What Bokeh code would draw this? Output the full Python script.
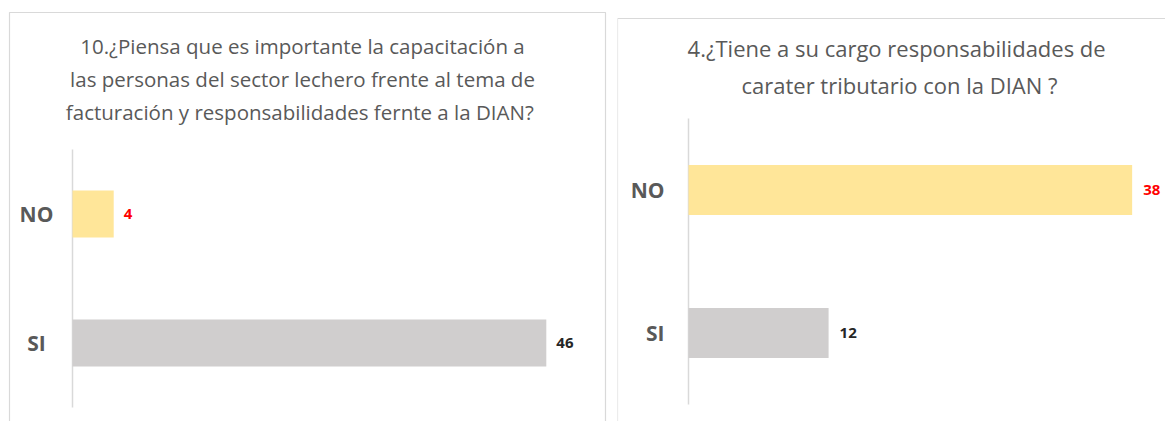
from bokeh.plotting import figure
from bokeh.models import Range1d, ColumnDataSource
from bokeh.layouts import row
from bokeh.embed import file_html
from bokeh.resources import INLINE
from bokeh.core.properties import value

# ---- data ----
categories = ["SI", "NO"]
left_values = [46, 4]
right_values = [12, 38]
left_title = [
    "10.¿Piensa que es importante la capacitación a",
    "las personas del sector lechero frente al tema de",
    "facturación y responsabilidades  fernte a la DIAN?",
]
right_title = [
    "4.¿Tiene a su cargo responsabilidades  de",
    "carater tributario con la DIAN ?",
]
bar_colors = ["#D0CECE", "#FFE699"]
label_colors = ["#262626", "#FF0000"]

FONT = "Open Sans"
TITLE_COLOR = "#595959"
AXIS_COLOR = "#D9D9D9"
HEIGHT = 421


def make_panel(values, title_lines, width, axis_px, px_per_unit, first_cat_py,
               px_per_cat, bar_px, title_cx, title_ys, title_size,
               border_px, cat_align, cat_off, label_off):
    # pixel <-> data helpers (layout only)
    def dx(px):
        return (px - axis_px) / px_per_unit

    def dy(py):
        return (first_cat_py - py) / px_per_cat

    p = figure(width=width, height=HEIGHT, output_backend="svg", toolbar_location=None,
               x_range=Range1d(dx(0), dx(width)), y_range=Range1d(dy(HEIGHT), dy(0)),
               min_border=0)
    p.title.visible = False
    p.axis.visible = False
    p.grid.visible = False
    p.outline_line_color = None

    idx = list(range(len(categories)))
    src = ColumnDataSource(dict(cat=categories, pos=idx, val=values,
                                color=bar_colors, lcolor=label_colors,
                                txt=[str(v) for v in values]))

    # panel border (left, top, right edges)
    bl, bt, br = border_px
    xs = [dx(bl), dx(bl)] + ([dx(br), dx(br)] if br is not None else [dx(width + 5)])
    ys = [dy(HEIGHT + 5), dy(bt)] + ([dy(bt), dy(HEIGHT + 5)] if br is not None else [dy(bt)])
    p.line(xs, ys, line_color=AXIS_COLOR, line_width=1.2)

    # category axis line
    p.segment(x0=[0], y0=[-0.5], x1=[0], y1=[len(categories) - 0.5],
              line_color=AXIS_COLOR, line_width=1.5)

    # bars
    p.hbar(y="pos", left=0, right="val", height=bar_px / px_per_cat, color="color",
           line_color=None, source=src)

    # category labels
    p.text(x=0, y="pos", text="cat", x_offset=cat_off, text_align=cat_align,
           text_baseline="middle", text_color=TITLE_COLOR, text_font=value(FONT),
           text_font_size="21px", text_font_style="bold", source=src)

    # value labels
    p.text(x="val", y="pos", text="txt", x_offset=label_off, text_align="left",
           text_baseline="middle", text_color="lcolor", text_font=value(FONT),
           text_font_size="15px", text_font_style="bold", source=src)

    # title
    tsrc = ColumnDataSource(dict(x=[dx(title_cx)] * len(title_lines),
                                 y=[dy(v) for v in title_ys], t=title_lines))
    p.text(x="x", y="y", text="t", text_align="center", text_baseline="middle",
           text_color=TITLE_COLOR, text_font=value(FONT), text_font_size=title_size,
           source=tsrc)
    return p


left = make_panel(left_values, left_title, width=617, axis_px=72, px_per_unit=10.3,
                  first_cat_py=342.5, px_per_cat=129, bar_px=47,
                  title_cx=302, title_ys=[45, 78, 111], title_size="20.5px",
                  border_px=(9, 12, 605), cat_align="center", cat_off=-36,
                  label_off=10)
right = make_panel(right_values, right_title, width=548, axis_px=71, px_per_unit=11.675,
                   first_cat_py=332.5, px_per_cat=143, bar_px=50,
                   title_cx=282, title_ys=[47, 84], title_size="22px",
                   border_px=(0, 18, None), cat_align="right", cat_off=-24,
                   label_off=11)

layout = row(left, right)
open("out.html", "w").write(file_html(layout, INLINE))
